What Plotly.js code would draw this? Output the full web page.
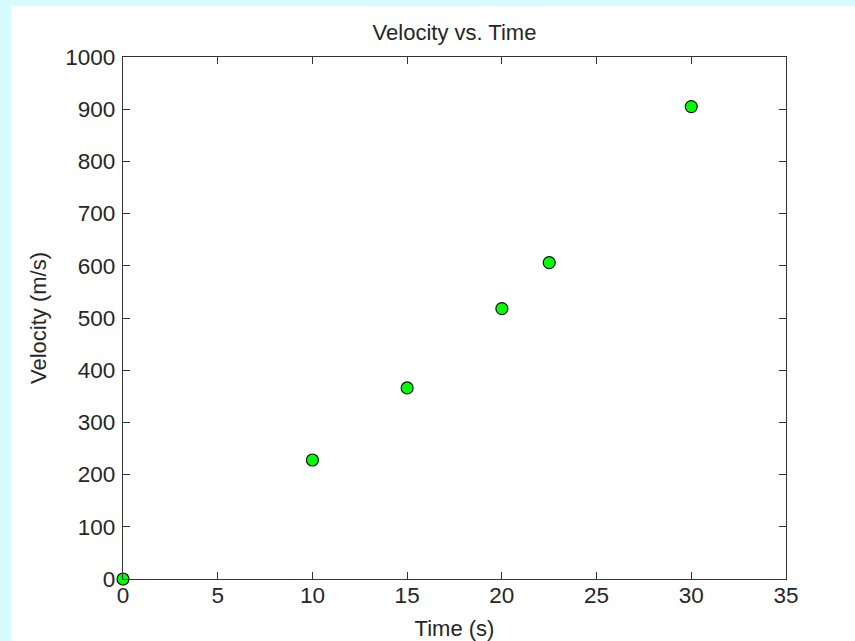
<!DOCTYPE html>
<html>
<head>
<meta charset="utf-8">
<script src="https://cdn.plot.ly/plotly-3.0.1.min.js"></script>
<style>
  html, body { margin: 0; padding: 0; background: #D6FCFF; width: 855px; height: 641px; overflow: hidden; }
  #chart { position: absolute; left: 11px; top: 6px; width: 844px; height: 635px; }
</style>
</head>
<body>
<div id="chart"></div>
<script>
const timeS = [0, 10, 15, 20, 22.5, 30];
const velocity = [0, 228, 366, 518, 606, 905];
const xTicks = [0, 5, 10, 15, 20, 25, 30, 35];
const yTicks = [0, 100, 200, 300, 400, 500, 600, 700, 800, 900, 1000];

const fontFam = '"Liberation Sans", Arial, sans-serif';
const textCol = '#262626';

const trace = {
  x: timeS,
  y: velocity,
  type: 'scatter',
  mode: 'markers',
  cliponaxis: false,
  marker: { color: '#00FF00', size: 12, line: { color: '#111111', width: 1.2 } },
  hoverinfo: 'x+y'
};

const axisCommon = {
  showgrid: false,
  zeroline: false,
  showline: true,
  linecolor: '#333333',
  linewidth: 1.3,
  mirror: 'ticks',
  ticks: 'inside',
  ticklen: 7,
  tickwidth: 1.2,
  tickcolor: '#333333',
  tickfont: { family: fontFam, size: 22.5, color: textCol },
  tickmode: 'array',
  fixedrange: true
};

const layout = {
  width: 844,
  height: 635,
  paper_bgcolor: '#FFFFFF',
  plot_bgcolor: '#FFFFFF',
  margin: { l: 112, r: 69, t: 51, b: 62 },
  showlegend: false,
  font: { family: fontFam, size: 22, color: textCol },
  title: {
    text: 'Velocity vs. Time',
    font: { family: fontFam, size: 22, color: textCol },
    x: 0.5, xref: 'paper', xanchor: 'center',
    y: 1 - 26 / 635, yref: 'container', yanchor: 'middle'
  },
  xaxis: Object.assign({}, axisCommon, {
    range: [0, 35],
    tickvals: xTicks,
    ticktext: xTicks.map(String),
    ticklabelstandoff: -4,
    title: { text: 'Time (s)', font: { family: fontFam, size: 22, color: textCol }, standoff: 13 }
  }),
  yaxis: Object.assign({}, axisCommon, {
    range: [0, 1000],
    tickvals: yTicks,
    ticktext: yTicks.map(String),
    ticklabelstandoff: 2,
    title: { text: 'Velocity (m/s)', font: { family: fontFam, size: 22, color: textCol }, standoff: 12 }
  })
};

Plotly.newPlot('chart', [trace], layout, { displayModeBar: false, staticPlot: false });
</script>
</body>
</html>
